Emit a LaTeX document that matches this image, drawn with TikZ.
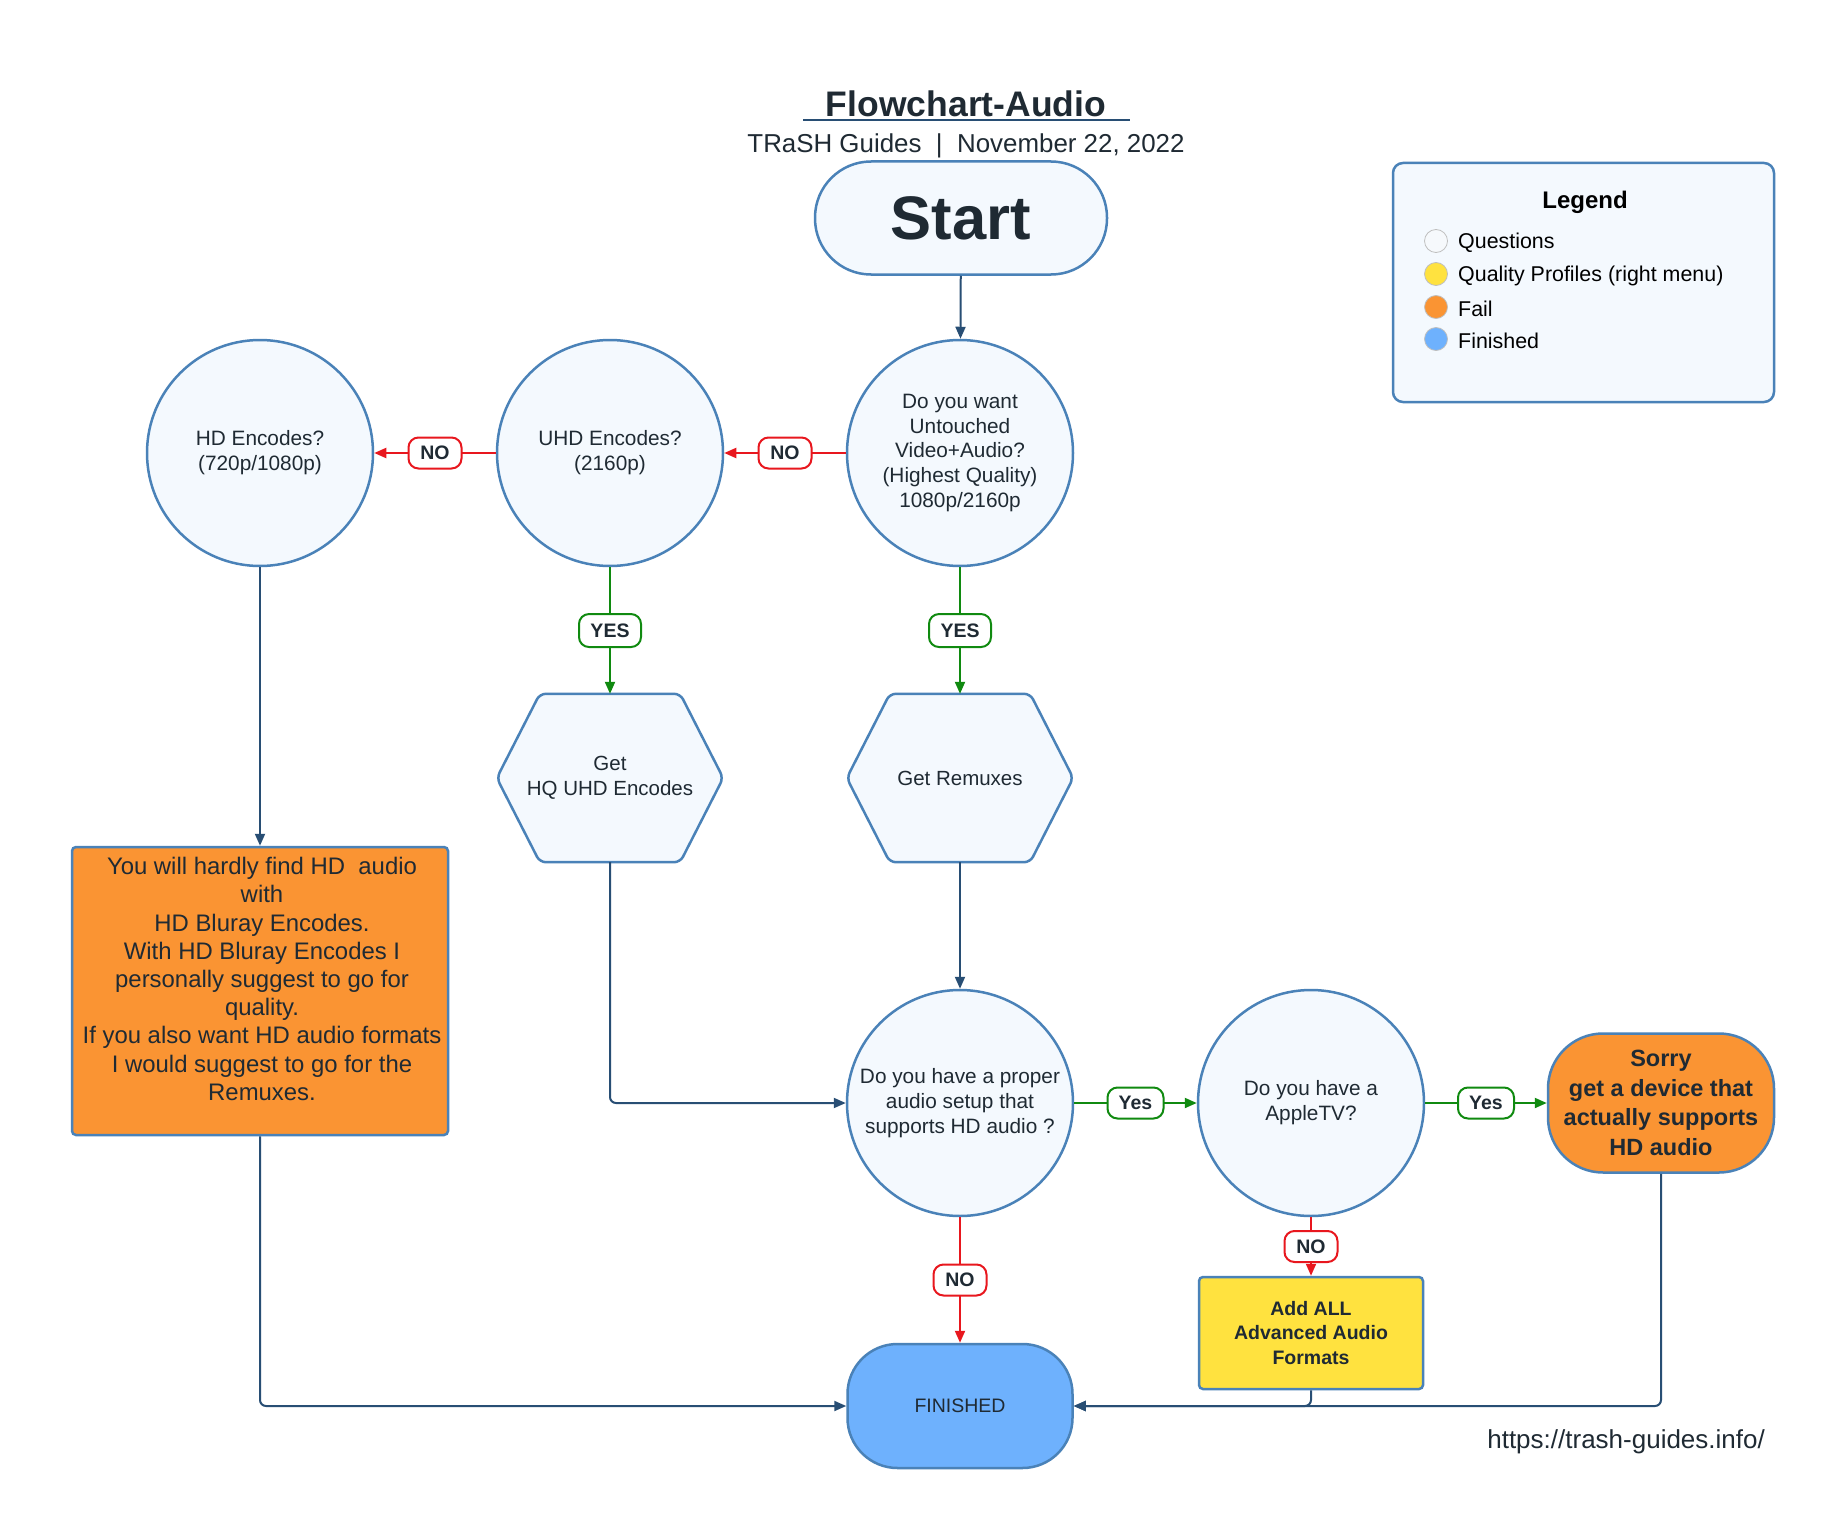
\documentclass[tikz,border=0pt]{standalone}
\usepackage{fontspec}
\setmainfont{Liberation Sans}
\usetikzlibrary{arrows.meta,calc,backgrounds}

\definecolor{ink}{HTML}{1F2A33}
\definecolor{edge}{HTML}{4A82B8}
\definecolor{qfill}{HTML}{F4F9FE}
\definecolor{navy}{HTML}{284E74}
\definecolor{nored}{HTML}{E8171E}
\definecolor{yesgreen}{HTML}{108A10}
\definecolor{failorange}{HTML}{FA9433}
\definecolor{qpyellow}{HTML}{FFE23F}
\definecolor{finblue}{HTML}{6EB1FD}

% flat-topped hexagon around a rectangular node
\newcommand\drawhex[1]{%
  \draw[hexline] (#1.west) -- ([xshift=43pt]#1.north west) -- ([xshift=-43pt]#1.north east)
    -- (#1.east) -- ([xshift=-43pt]#1.south east) -- ([xshift=43pt]#1.south west) -- cycle;}

\begin{document}
\begin{tikzpicture}[x=1pt,y=-1pt,
  every node/.style={text=ink, align=center},
  question/.style={circle, draw=edge, fill=qfill, line width=2.5pt, minimum size=226pt,
    inner sep=0pt, font=\fontsize{20.8}{24.8}\selectfont},
  hexnode/.style={rectangle, minimum width=226pt, minimum height=168pt, inner sep=0pt,
    font=\fontsize{20.5}{24.8}\selectfont},
  hexline/.style={draw=edge, fill=qfill, line width=2.5pt, rounded corners=6pt},
  startbox/.style={rectangle, rounded corners=56pt, draw=edge, fill=qfill, line width=2.5pt,
    minimum width=292pt, minimum height=113pt, font=\bfseries\fontsize{61.5}{62}\selectfont},
  failbox/.style={rectangle, rounded corners=4pt, draw=edge, fill=failorange, line width=2.5pt,
    minimum width=376pt, minimum height=288pt, inner sep=0pt},
  failtext/.style={font=\fontsize{23.9}{28.2}\selectfont, inner sep=0pt},
  sorrybox/.style={rectangle, rounded corners=55pt, draw=edge, fill=failorange, line width=2.5pt,
    minimum width=226pt, minimum height=139pt, inner sep=0pt, font=\bfseries\fontsize{23.5}{29.6}\selectfont},
  addbox/.style={rectangle, rounded corners=4pt, draw=edge, fill=qpyellow, line width=2.5pt,
    minimum width=224pt, minimum height=112pt, inner sep=0pt, font=\bfseries\fontsize{19.5}{24.5}\selectfont},
  finbox/.style={rectangle, rounded corners=50pt, draw=edge, fill=finblue, line width=2.5pt,
    minimum width=225pt, minimum height=124pt, inner sep=0pt, font=\fontsize{19.5}{24}\selectfont},
  tip/.style={-{Triangle[length=12pt,width=10pt]}},
  navyflow/.style={draw=navy, line width=2pt, tip, rounded corners=6pt},
  redflow/.style={draw=nored, line width=2pt, tip},
  greenflow/.style={draw=yesgreen, line width=2pt, tip},
  nolbl/.style={rectangle, rounded corners=10pt, draw=nored, fill=white, line width=2pt,
    minimum width=53pt, minimum height=31pt, inner sep=0pt, font=\bfseries\fontsize{19.5}{20}\selectfont},
  yeslbl/.style={rectangle, rounded corners=10pt, draw=yesgreen, fill=white, line width=2pt,
    minimum width=62pt, minimum height=33pt, inner sep=0pt, font=\bfseries\fontsize{19.5}{20}\selectfont},
  yeslbl2/.style={yeslbl, minimum width=56pt, minimum height=31pt},
  legendbox/.style={rectangle, rounded corners=10pt, draw=edge, fill=qfill, line width=2.5pt,
    minimum width=381pt, minimum height=239pt, inner sep=0pt},
  legdot/.style={circle, minimum size=23pt, inner sep=0pt, line width=0.8pt},
  legtext/.style={anchor=west, inner sep=0pt, text=black, font=\fontsize{21.4}{22}\selectfont}
]

% page and title block
\begin{scope}[on background layer]
  \fill[white] (0,0) rectangle (1832,1536);
\end{scope}
\useasboundingbox (0,0) rectangle (1832,1536);

\node[font=\bfseries\fontsize{35.5}{38}\selectfont] (title) at (966,104) {Flowchart-Audio};
\draw[navy, line width=2pt] (803,120) -- (1130,120);
\node[font=\fontsize{25.9}{28}\selectfont] (subtitle) at (966,146) {TRaSH Guides\ \ |\ \ November 22, 2022};

% legend
\node[legendbox] (legend) at (1583.5,282.5) {};
\node[text=black, font=\bfseries\fontsize{24}{26}\selectfont] (legtitle) at (1585,202) {Legend};
\node[legdot, fill=qfill!70!edge!15, draw=black!25] (d1) at (1436,241) {};
\node[legdot, fill=qpyellow, draw=black!25] (d2) at (1436,274) {};
\node[legdot, fill=failorange, draw=black!25] (d3) at (1436,307) {};
\node[legdot, fill=finblue, draw=black!25] (d4) at (1436,339) {};
\node[legtext] (t1) at (1458,243) {Questions};
\node[legtext] (t2) at (1458,276) {Quality Profiles (right menu)};
\node[legtext] (t3) at (1458,309) {Fail};
\node[legtext] (t4) at (1458,341) {Finished};

% nodes
\node[startbox] (start) at (961,218) {Start};
\node[question] (q1) at (960,453) {Do you want\\Untouched\\Video+Audio?\\(Highest Quality)\\1080p/2160p};
\node[question] (uhd) at (610,453) {UHD Encodes?\\(2160p)};
\node[question] (hd) at (260,453) {HD Encodes?\\(720p/1080p)};
\node[hexnode] (hq) at (610,778) {Get\\HQ UHD Encodes};
\node[hexnode] (remux) at (960,778) {Get Remuxes};
\begin{scope}[on background layer]
  \drawhex{hq}
  \drawhex{remux}
\end{scope}
\node[failbox] (hdfail) at (260,991) {};
\node[failtext] (hdfailtext) at (262,979) {You will hardly find HD\ \ audio\\with\\HD Bluray Encodes.\\With HD Bluray Encodes I\\personally suggest to go for\\quality.\\If you also want HD audio formats\\I would suggest to go for the\\Remuxes.};
\node[question] (q2) at (960,1103) {Do you have a proper\\audio setup that\\supports HD audio ?};
\node[question] (q3) at (1311,1103) {Do you have a\\AppleTV?};
\node[sorrybox] (sorry) at (1661,1103) {Sorry\\get a device that\\actually supports\\HD audio};
\node[addbox] (addall) at (1311,1333) {Add ALL\\Advanced Audio\\Formats};
\node[finbox] (fin) at (960,1406) {FINISHED};
\node[font=\fontsize{26}{28}\selectfont, anchor=east, inner sep=0pt] (url) at (1765,1442) {https://trash-guides.info/};

% connectors
\draw[navyflow] (start) -- (q1);
\draw[redflow] (q1) -- node[nolbl] {NO} (uhd);
\draw[redflow] (uhd) -- node[nolbl] {NO} (hd);
\draw[greenflow] (q1) -- node[yeslbl] {YES} (remux);
\draw[greenflow] (uhd) -- node[yeslbl] {YES} (hq);
\draw[navyflow] (hd) -- (hdfail);
\draw[navyflow] (remux) -- (q2);
\draw[navyflow] (hq.south) |- (q2.west);
\draw[greenflow] (q2) -- node[yeslbl2] {Yes} (q3);
\draw[greenflow] (q3) -- node[yeslbl2] {Yes} (sorry);
\draw[redflow] (q2) -- node[nolbl] {NO} (fin);
\draw[redflow] (q3) -- node[nolbl] {NO} (addall);
\draw[navyflow] (hdfail.south) |- (fin.west);
\draw[navyflow] (addall.south) |- (fin.east);
\draw[navyflow] (sorry.south) |- (fin.east);
\end{tikzpicture}
\end{document}
